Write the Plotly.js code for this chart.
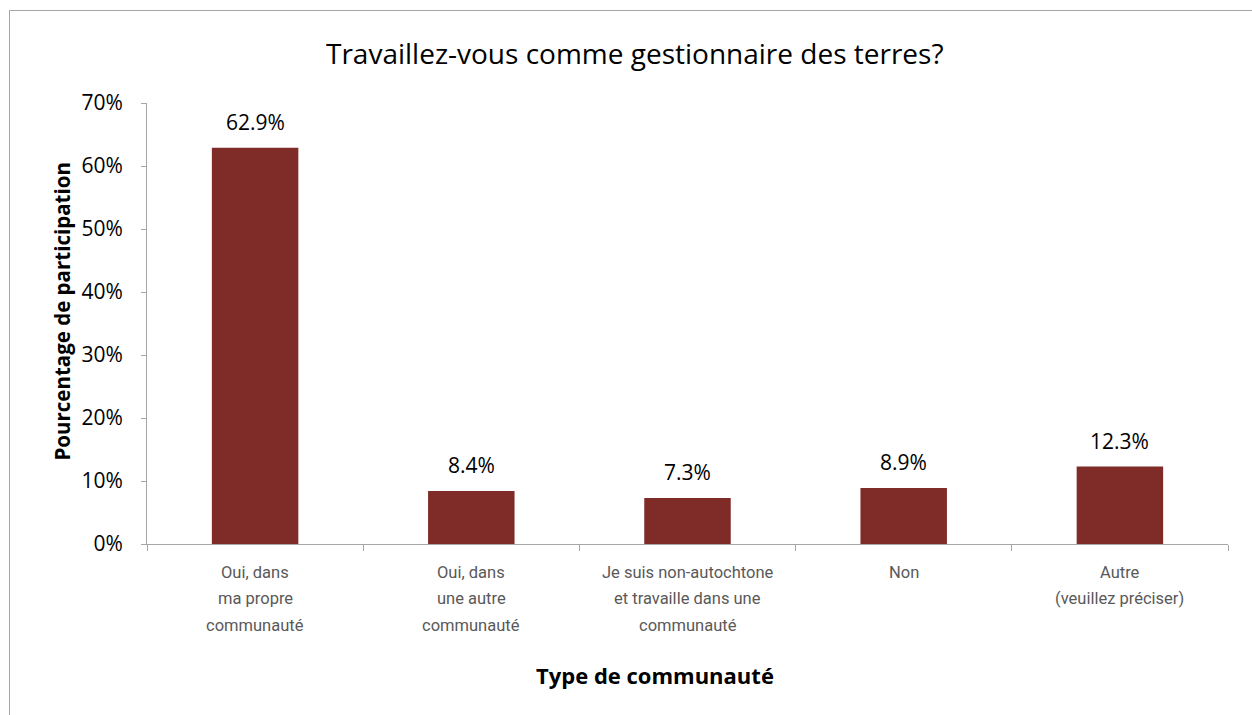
<!DOCTYPE html>
<html>
<head>
<meta charset="utf-8">
<script src="https://cdn.plot.ly/plotly-3.0.1.min.js"></script>
<style>
  html, body { margin: 0; padding: 0; background: #fff; }
  #wrap { position: relative; width: 1252px; height: 715px; overflow: hidden; }
  #chart { position: absolute; left: 0; top: 0; width: 1252px; height: 715px; }
  #frame { position: absolute; left: 9px; top: 10px; width: 1300px; height: 800px;
           border-left: 1px solid #A6A6A6; border-top: 1px solid #A6A6A6; pointer-events: none; }
</style>
</head>
<body>
<div id="wrap">
  <div id="chart"></div>
  <div id="frame"></div>
</div>
<script>
const categories = [
  'Oui, dans ma propre communauté',
  'Oui, dans une autre communauté',
  'Je suis non-autochtone et travaille dans une communauté',
  'Non',
  'Autre (veuillez préciser)'
];
const tickLabelLines = [
  ['Oui, dans', 'ma propre', 'communauté'],
  ['Oui, dans', 'une autre', 'communauté'],
  ['Je suis non-autochtone', 'et travaille dans une', 'communauté'],
  ['Non'],
  ['Autre', '(veuillez préciser)']
];
const values = [0.629, 0.084, 0.073, 0.089, 0.123];
const valueLabels = ['62.9%', '8.4%', '7.3%', '8.9%', '12.3%'];
const chartTitle = 'Travaillez-vous comme gestionnaire des terres?';
const xTitle = 'Type de communauté';
const yTitle = 'Pourcentage de participation';

const mainFont = 'Open Sans, Liberation Sans, sans-serif';
const tickFont = 'Roboto, Inter, sans-serif';

const annotations = [];
categories.forEach((c, i) => {
  annotations.push({
    x: c, xref: 'x', y: values[i], yref: 'y',
    text: valueLabels[i], showarrow: false,
    yanchor: 'bottom', yshift: 10,
    font: { family: mainFont, size: 21, color: '#000000' }
  });
  tickLabelLines[i].forEach((line, j) => {
    annotations.push({
      x: c, xref: 'x', y: 0, yref: 'y',
      text: line, showarrow: false,
      yanchor: 'middle', yshift: -(28 + 26.5 * j),
      font: { family: tickFont, size: 16.5, color: '#595959' }
    });
  });
});
annotations.push({
  x: 0.47, xref: 'paper', xanchor: 'center',
  y: 0, yref: 'y', yanchor: 'middle', yshift: -131,
  text: '<b>' + xTitle + '</b>', showarrow: false,
  font: { family: mainFont, size: 22, color: '#000000' }
});
annotations.push({
  x: 0, xref: 'paper', xanchor: 'center', xshift: -85,
  y: 0.527, yref: 'paper', yanchor: 'middle',
  textangle: -90,
  text: '<b>' + yTitle + '</b>', showarrow: false,
  font: { family: mainFont, size: 20.5, color: '#000000' }
});

const trace = {
  type: 'bar',
  x: categories,
  y: values,
  marker: { color: '#7F2C28' },
  hoverinfo: 'skip'
};

const layout = {
  width: 1252, height: 715,
  margin: { l: 147, r: 24, t: 103, b: 171 },
  paper_bgcolor: 'rgba(0,0,0,0)',
  plot_bgcolor: 'rgba(0,0,0,0)',
  bargap: 0.6,
  showlegend: false,
  title: {
    text: chartTitle,
    x: 0.507, xref: 'container', xanchor: 'center',
    y: 1 - 54 / 715, yref: 'container', yanchor: 'middle',
    font: { family: mainFont, size: 28, color: '#000000' }
  },
  xaxis: {
    type: 'category',
    showticklabels: false,
    tickson: 'boundaries',
    ticks: 'outside', ticklen: 6, tickcolor: '#A6A6A6', tickwidth: 1,
    showline: true, linecolor: '#A6A6A6', linewidth: 1,
    showgrid: false, zeroline: false,
    fixedrange: true,
    automargin: false
  },
  yaxis: {
    range: [0, 0.7],
    dtick: 0.1, tick0: 0,
    tickformat: '.0%',
    ticks: 'outside', ticklen: 5, tickcolor: '#A6A6A6', tickwidth: 1,
    ticklabelstandoff: 14,
    showline: true, linecolor: '#A6A6A6', linewidth: 1,
    showgrid: false, zeroline: false,
    tickfont: { family: mainFont, size: 21, color: '#000000' },
    fixedrange: true,
    automargin: false
  },
  annotations: annotations
};

Plotly.newPlot('chart', [trace], layout, { displayModeBar: false, staticPlot: true });
</script>
</body>
</html>
